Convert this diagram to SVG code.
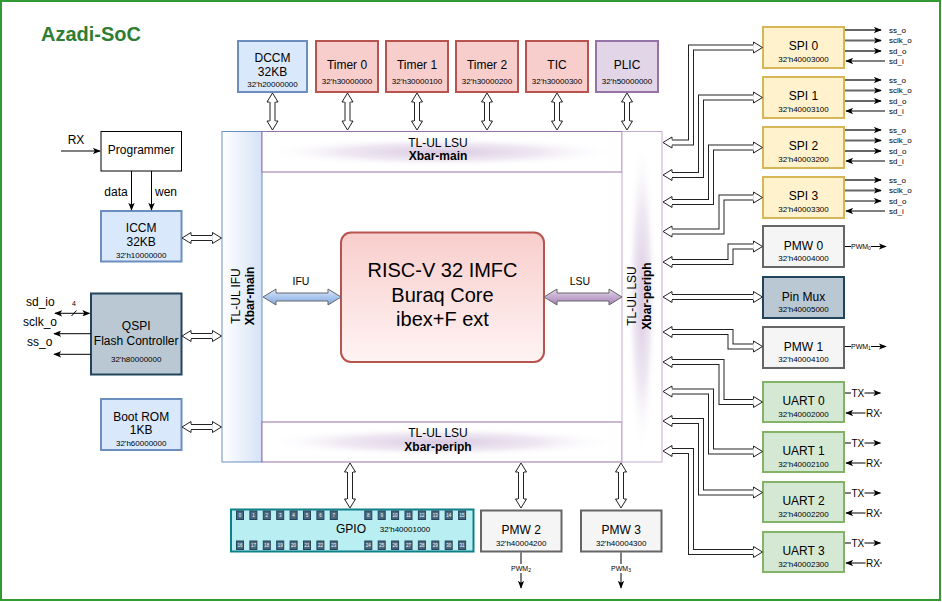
<svg xmlns="http://www.w3.org/2000/svg" width="942" height="602" viewBox="0 0 942 602">
<defs>
<style>
text{font-family:"Liberation Sans",Arial,sans-serif;fill:#000}
.c{text-anchor:middle}
.s12{font-size:12px}
.s8{font-size:8px}
.s10{font-size:10px}
.s7{font-size:7px}
.bx{stroke-width:2}
.blue{fill:#dae8fc;stroke:#6c8ebf}
.red{fill:#f8cecc;stroke:#b85450}
.pur{fill:#e1d5e7;stroke:#9673a6}
.yel{fill:#fff2cc;stroke:#d6b656}
.gry{fill:#f5f5f5;stroke:#666666}
.grn{fill:#d5e8d4;stroke:#82b366}
.dk{fill:#bac8d3;stroke:#23445d}
.fo{fill:none;stroke:#222;stroke-width:6;stroke-linejoin:miter;marker-start:url(#fh);marker-end:url(#fh)}
.fi{fill:none;stroke:#fff;stroke-width:4;stroke-linejoin:miter}
.sg{fill:none;stroke:#000;stroke-width:1;marker-end:url(#ah)}
.sgg{fill:none;stroke:#666;stroke-width:2;marker-end:url(#ah)}
.ln{fill:none;stroke:#000;stroke-width:1}
.pin rect{fill:#4a687d;stroke:#23445d;stroke-width:1}
.pin text{font-size:4.5px;fill:#fff;text-anchor:middle}
</style>
<marker id="fh" viewBox="-1 -7 11 14" refX="0" refY="0" markerWidth="11" markerHeight="14" markerUnits="userSpaceOnUse" orient="auto-start-reverse" overflow="visible">
<path d="M0,-3 L0,-5.5 L9,0 L0,5.5 L0,3" fill="#fff" stroke="#222" stroke-width="1" stroke-linejoin="miter"/>
</marker>
<marker id="ah" viewBox="0 0 10 8" refX="9" refY="4" markerWidth="8" markerHeight="6.4" markerUnits="userSpaceOnUse" orient="auto-start-reverse">
<path d="M0,0 L10,4 L0,8 L2.5,4 Z" fill="#000"/>
</marker>
<linearGradient id="gifu" x1="0" y1="0" x2="0" y2="1"><stop offset="0" stop-color="#dae8fc"/><stop offset="1" stop-color="#7ea6e0"/></linearGradient>
<linearGradient id="glsu" x1="0" y1="0" x2="0" y2="1"><stop offset="0" stop-color="#e1d5e7"/><stop offset="1" stop-color="#a680b8"/></linearGradient>
<linearGradient id="gleft" x1="0" y1="0" x2="1" y2="0"><stop offset="0" stop-color="#ffffff"/><stop offset="1" stop-color="#d4e2f7"/></linearGradient>
<linearGradient id="gcore" x1="0" y1="0" x2="0" y2="1"><stop offset="0" stop-color="#f8cecc"/><stop offset="1" stop-color="#fff3f3"/></linearGradient>
<radialGradient id="glow"><stop offset="0" stop-color="#d6c5df" stop-opacity="0.95"/><stop offset="0.55" stop-color="#e4d9ea" stop-opacity="0.6"/><stop offset="1" stop-color="#ffffff" stop-opacity="0"/></radialGradient>
</defs>

<rect x="1" y="1" width="939" height="599" fill="#fff" stroke="#339933" stroke-width="2"/>
<text x="41" y="40.5" style="font-size:20px;font-weight:bold;fill:#2e7d32">Azadi-SoC</text>

<!-- Bus structure -->
<g id="xbar">
<rect x="222" y="131.5" width="40" height="330.5" fill="url(#gleft)" stroke="#6c8ebf"/>
<rect x="262" y="131.5" width="360" height="40.5" fill="#fff" stroke="#9673a6"/>
<ellipse cx="442" cy="152" rx="180" ry="15" fill="url(#glow)"/>
<rect x="262" y="422" width="360" height="40" fill="#fff" stroke="#9673a6"/>
<ellipse cx="442" cy="442" rx="180" ry="15" fill="url(#glow)"/>
<rect x="622" y="131.5" width="40" height="330.5" fill="#fff" stroke="#c3abd0"/>
<ellipse cx="642" cy="297" rx="15" ry="160" fill="url(#glow)"/>
<text class="c s12" x="438" y="146.5">TL-UL LSU</text>
<text class="c s12" x="438" y="160" font-weight="bold">Xbar-main</text>
<text class="c s12" x="438" y="437">TL-UL LSU</text>
<text class="c s12" x="438" y="450.5" font-weight="bold">Xbar-periph</text>
<text class="c s12" transform="translate(239.5,296) rotate(-90)">TL-UL IFU</text>
<text class="c s12" transform="translate(254,296) rotate(-90)" font-weight="bold">Xbar-main</text>
<text class="c s12" transform="translate(636,296) rotate(-90)">TL-UL LSU</text>
<text class="c s12" transform="translate(650.5,296) rotate(-90)" font-weight="bold">Xbar-periph</text>
</g>

<g id="core">
<rect x="341" y="232.5" width="203" height="129.5" rx="10" fill="url(#gcore)" stroke="#b85450" stroke-width="2"/>
<text class="c" x="442.5" y="277" font-size="20">RISC-V 32 IMFC</text>
<text class="c" x="442.5" y="301.5" font-size="20">Buraq Core</text>
<text class="c" x="442.5" y="326" font-size="20">ibex+F ext</text>
</g>

<!-- top peripherals -->
<g id="dccm"><rect class="bx blue" x="238" y="41" width="69" height="51"/>
<text class="c s12" x="272.5" y="62">DCCM</text><text class="c s12" x="272.5" y="76">32KB</text><text class="c s8" x="272.5" y="87">32'h20000000</text></g>
<g id="timer0"><rect class="bx red" x="316" y="41" width="62" height="51"/>
<text class="c s12" x="347" y="69">Timer 0</text><text class="c s8" x="347" y="83.5">32'h30000000</text></g>
<g id="timer1"><rect class="bx red" x="386" y="41" width="62" height="51"/>
<text class="c s12" x="417" y="69">Timer 1</text><text class="c s8" x="417" y="83.5">32'h30000100</text></g>
<g id="timer2"><rect class="bx red" x="456" y="41" width="62" height="51"/>
<text class="c s12" x="487" y="69">Timer 2</text><text class="c s8" x="487" y="83.5">32'h30000200</text></g>
<g id="tic"><rect class="bx red" x="526" y="41" width="62" height="51"/>
<text class="c s12" x="557" y="69">TIC</text><text class="c s8" x="557" y="83.5">32'h30000300</text></g>
<g id="plic"><rect class="bx pur" x="596" y="41" width="62" height="51"/>
<text class="c s12" x="627" y="69">PLIC</text><text class="c s8" x="627" y="83.5">32'h50000000</text></g>

<!-- left side -->
<g id="programmer"><rect x="101" y="131.5" width="80.5" height="39.5" fill="#fff" stroke="#000"/>
<text class="c s12" x="141.2" y="153.5">Programmer</text></g>
<g id="iccm"><rect class="bx blue" x="101" y="211" width="80.5" height="50.5"/>
<text class="c s12" x="141.2" y="231.5">ICCM</text><text class="c s12" x="141.2" y="246">32KB</text><text class="c s8" x="141.2" y="257.5">32'h10000000</text></g>
<g id="qspi"><rect class="bx dk" x="91" y="293.5" width="90.5" height="81"/>
<text class="c s12" x="136.2" y="330">QSPI</text><text class="c s12" x="136.2" y="344.5">Flash Controller</text><text class="c s8" x="136.2" y="361.5">32'h80000000</text></g>
<g id="bootrom"><rect class="bx blue" x="101" y="399" width="80.5" height="51"/>
<text class="c s12" x="141.2" y="420.5">Boot ROM</text><text class="c s12" x="141.2" y="434">1KB</text><text class="c s8" x="141.2" y="445.5">32'h60000000</text></g>

<!-- right side -->
<g id="spi0"><rect class="bx yel" x="763" y="27" width="81" height="41"/>
<text class="c s12" x="803.5" y="49.5">SPI 0</text><text class="c s8" x="803.5" y="62">32'h40003000</text></g>
<g id="spi1"><rect class="bx yel" x="763" y="77" width="81" height="41"/>
<text class="c s12" x="803.5" y="99.5">SPI 1</text><text class="c s8" x="803.5" y="112">32'h40003100</text></g>
<g id="spi2"><rect class="bx yel" x="763" y="127" width="81" height="41"/>
<text class="c s12" x="803.5" y="149.5">SPI 2</text><text class="c s8" x="803.5" y="162">32'h40003200</text></g>
<g id="spi3"><rect class="bx yel" x="763" y="177" width="81" height="41"/>
<text class="c s12" x="803.5" y="199.5">SPI 3</text><text class="c s8" x="803.5" y="212">32'h40003300</text></g>
<g id="pmw0"><rect class="bx gry" x="763" y="226" width="81" height="41"/>
<text class="c s12" x="803.5" y="250">PMW 0</text><text class="c s8" x="803.5" y="261">32'h40004000</text></g>
<g id="pinmux"><rect class="bx dk" x="763" y="277" width="81" height="41"/>
<text class="c s12" x="803.5" y="300.5">Pin Mux</text><text class="c s8" x="803.5" y="312">32'h40005000</text></g>
<g id="pmw1"><rect class="bx gry" x="763" y="327" width="81" height="41"/>
<text class="c s12" x="803.5" y="350.5">PMW 1</text><text class="c s8" x="803.5" y="362">32'h40004100</text></g>
<g id="uart0"><rect class="bx grn" x="763" y="382" width="81" height="40"/>
<text class="c s12" x="803.5" y="405">UART 0</text><text class="c s8" x="803.5" y="416.5">32'h40002000</text></g>
<g id="uart1"><rect class="bx grn" x="763" y="432" width="81" height="40"/>
<text class="c s12" x="803.5" y="455">UART 1</text><text class="c s8" x="803.5" y="466.5">32'h40002100</text></g>
<g id="uart2"><rect class="bx grn" x="763" y="482" width="81" height="40"/>
<text class="c s12" x="803.5" y="505">UART 2</text><text class="c s8" x="803.5" y="516.5">32'h40002200</text></g>
<g id="uart3"><rect class="bx grn" x="763" y="532" width="81" height="40"/>
<text class="c s12" x="803.5" y="555">UART 3</text><text class="c s8" x="803.5" y="566.5">32'h40002300</text></g>

<!-- bottom -->
<g id="gpio"><rect x="231" y="509.5" width="242.5" height="42" fill="#b9eef2" stroke="#0e8088" stroke-width="2"/>
<text class="c s12" x="351" y="532.5">GPIO</text><text class="c s8" x="405" y="532">32'h40001000</text>
<g class="pin">
<rect x="236.5" y="511" width="7" height="8.5"/><text x="240" y="517">0</text>
<rect x="249.9" y="511" width="7" height="8.5"/><text x="253.4" y="517">1</text>
<rect x="263.3" y="511" width="7" height="8.5"/><text x="266.8" y="517">2</text>
<rect x="276.7" y="511" width="7" height="8.5"/><text x="280.2" y="517">3</text>
<rect x="290.1" y="511" width="7" height="8.5"/><text x="293.6" y="517">4</text>
<rect x="303.5" y="511" width="7" height="8.5"/><text x="307" y="517">5</text>
<rect x="316.9" y="511" width="7" height="8.5"/><text x="320.4" y="517">6</text>
<rect x="330.3" y="511" width="7" height="8.5"/><text x="333.8" y="517">7</text>
<rect x="364.8" y="511" width="7" height="8.5"/><text x="368.3" y="517">8</text>
<rect x="378.2" y="511" width="7" height="8.5"/><text x="381.7" y="517">9</text>
<rect x="391.6" y="511" width="7" height="8.5"/><text x="395.1" y="517">10</text>
<rect x="405" y="511" width="7" height="8.5"/><text x="408.5" y="517">11</text>
<rect x="418.4" y="511" width="7" height="8.5"/><text x="421.9" y="517">12</text>
<rect x="431.8" y="511" width="7" height="8.5"/><text x="435.3" y="517">13</text>
<rect x="445.2" y="511" width="7" height="8.5"/><text x="448.7" y="517">14</text>
<rect x="458.6" y="511" width="7" height="8.5"/><text x="462.1" y="517">15</text>
<rect x="236.5" y="541" width="7" height="8.5"/><text x="240" y="547">16</text>
<rect x="249.9" y="541" width="7" height="8.5"/><text x="253.4" y="547">17</text>
<rect x="263.3" y="541" width="7" height="8.5"/><text x="266.8" y="547">18</text>
<rect x="276.7" y="541" width="7" height="8.5"/><text x="280.2" y="547">19</text>
<rect x="290.1" y="541" width="7" height="8.5"/><text x="293.6" y="547">20</text>
<rect x="303.5" y="541" width="7" height="8.5"/><text x="307" y="547">21</text>
<rect x="316.9" y="541" width="7" height="8.5"/><text x="320.4" y="547">22</text>
<rect x="330.3" y="541" width="7" height="8.5"/><text x="333.8" y="547">23</text>
<rect x="364.8" y="541" width="7" height="8.5"/><text x="368.3" y="547">24</text>
<rect x="378.2" y="541" width="7" height="8.5"/><text x="381.7" y="547">25</text>
<rect x="391.6" y="541" width="7" height="8.5"/><text x="395.1" y="547">26</text>
<rect x="405" y="541" width="7" height="8.5"/><text x="408.5" y="547">27</text>
<rect x="418.4" y="541" width="7" height="8.5"/><text x="421.9" y="547">28</text>
<rect x="431.8" y="541" width="7" height="8.5"/><text x="435.3" y="547">29</text>
<rect x="445.2" y="541" width="7" height="8.5"/><text x="448.7" y="547">30</text>
<rect x="458.6" y="541" width="7" height="8.5"/><text x="462.1" y="547">31</text>
</g></g>
<g id="pmw2"><rect class="bx gry" x="481" y="510.5" width="80.5" height="41"/>
<text class="c s12" x="521.2" y="534">PMW 2</text><text class="c s8" x="521.2" y="545.5">32'h40004200</text></g>
<g id="pmw3"><rect class="bx gry" x="581" y="510.5" width="80.5" height="41"/>
<text class="c s12" x="621.2" y="534">PMW 3</text><text class="c s8" x="621.2" y="545.5">32'h40004300</text></g>

<!-- connectors -->
<g id="connectors">
<!-- bus flex arrows -->
<path class="fo" d="M272.5,102 V121"/><path class="fi" d="M272.5,102 V121"/>
<path class="fo" d="M347.5,102 V121"/><path class="fi" d="M347.5,102 V121"/>
<path class="fo" d="M417,102 V121"/><path class="fi" d="M417,102 V121"/>
<path class="fo" d="M487,102 V121"/><path class="fi" d="M487,102 V121"/>
<path class="fo" d="M557,102 V121"/><path class="fi" d="M557,102 V121"/>
<path class="fo" d="M627,102 V121"/><path class="fi" d="M627,102 V121"/>
<path class="fo" d="M350,472 V499"/><path class="fi" d="M350,472 V499"/>
<path class="fo" d="M521,472 V499"/><path class="fi" d="M521,472 V499"/>
<path class="fo" d="M621,472 V499"/><path class="fi" d="M621,472 V499"/>
<path class="fo" d="M191,238 H212.5"/><path class="fi" d="M191,238 H212.5"/>
<path class="fo" d="M191,336 H212.5"/><path class="fi" d="M191,336 H212.5"/>
<path class="fo" d="M191,427 H212.5"/><path class="fi" d="M191,427 H212.5"/>
<path class="fo" d="M672,142.5 H691 V47.5 H753.5"/><path class="fi" d="M672,142.5 H691 V47.5 H753.5"/>
<path class="fo" d="M672,175 H701 V97.5 H753.5"/><path class="fi" d="M672,175 H701 V97.5 H753.5"/>
<path class="fo" d="M672,202 H711 V147.5 H753.5"/><path class="fi" d="M672,202 H711 V147.5 H753.5"/>
<path class="fo" d="M672,231.5 H721.5 V197.5 H753.5"/><path class="fi" d="M672,231.5 H721.5 V197.5 H753.5"/>
<path class="fo" d="M672,262 H730.5 V246.5 H753.5"/><path class="fi" d="M672,262 H730.5 V246.5 H753.5"/>
<path class="fo" d="M672,297 H753.5"/><path class="fi" d="M672,297 H753.5"/>
<path class="fo" d="M672,332 H730.5 V346.5 H753.5"/><path class="fi" d="M672,332 H730.5 V346.5 H753.5"/>
<path class="fo" d="M672,362 H721.5 V402 H753.5"/><path class="fi" d="M672,362 H721.5 V402 H753.5"/>
<path class="fo" d="M672,391.5 H711 V451.5 H753.5"/><path class="fi" d="M672,391.5 H711 V451.5 H753.5"/>
<path class="fo" d="M672,421 H701 V492.5 H753.5"/><path class="fi" d="M672,421 H701 V492.5 H753.5"/>
<path class="fo" d="M672,451 H691 V552 H753.5"/><path class="fi" d="M672,451 H691 V552 H753.5"/>

<!-- core arrows -->
<polygon points="263,297 276,289 276,293 328,293 328,289 341,297 328,305 328,301 276,301 276,305" fill="url(#gifu)" stroke="#666" stroke-width="1"/>
<polygon points="544,297 557,289 557,293 609,293 609,289 622,297 609,305 609,301 557,301 557,305" fill="url(#glsu)" stroke="#666" stroke-width="1"/>
<text class="c" x="301" y="285" font-size="10.5">IFU</text>
<text class="c" x="580" y="285" font-size="10.5">LSU</text>

<!-- programmer signals -->
<path class="sg" d="M61,151 H100"/>
<text class="c s12" x="76" y="144">RX</text>
<path class="sg" d="M131.5,171 V210"/>
<path class="sg" d="M151.5,171 V210"/>
<text class="c s12" x="116" y="195.5">data</text>
<text class="c s12" x="166" y="195.5">wen</text>

<!-- QSPI signals -->
<text class="s12" x="26" y="306">sd_io</text>
<path class="sg" d="M55,313.3 H89.5" style="marker-start:url(#ah)"/>
<path class="ln" d="M71.5,316 L76.5,310.5"/>
<text class="c s7" x="74" y="306">4</text>
<text class="s12" x="23" y="326">sclk_o</text>
<path class="sg" d="M91,333.7 H54"/>
<text class="s12" x="27" y="346">ss_o</text>
<path class="sg" d="M91,354.3 H54"/>

<!-- SPI signals -->
<path class="sgg" d="M845,30 H881"/><path class="sgg" d="M845,40.5 H881"/><path class="sgg" d="M845,51 H881"/><path class="sg" d="M885,61 H846"/>
<text class="s8" x="889" y="32.5">ss_o</text><text class="s8" x="889" y="43">sclk_o</text><text class="s8" x="889" y="53.5">sd_o</text><text class="s8" x="889" y="63.5">sd_i</text>
<path class="sgg" d="M845,80 H881"/><path class="sgg" d="M845,90.5 H881"/><path class="sgg" d="M845,101 H881"/><path class="sg" d="M885,111 H846"/>
<text class="s8" x="889" y="82.5">ss_o</text><text class="s8" x="889" y="93">sclk_o</text><text class="s8" x="889" y="103.5">sd_o</text><text class="s8" x="889" y="113.5">sd_i</text>
<path class="sgg" d="M845,130 H881"/><path class="sgg" d="M845,140.5 H881"/><path class="sgg" d="M845,151 H881"/><path class="sg" d="M885,161 H846"/>
<text class="s8" x="889" y="132.5">ss_o</text><text class="s8" x="889" y="143">sclk_o</text><text class="s8" x="889" y="153.5">sd_o</text><text class="s8" x="889" y="163.5">sd_i</text>
<path class="sgg" d="M845,180 H881"/><path class="sgg" d="M845,190.5 H881"/><path class="sg" d="M845,201 H881"/><path class="sg" d="M885,211 H846"/>
<text class="s8" x="889" y="182.5">ss_o</text><text class="s8" x="889" y="193">sclk_o</text><text class="s8" x="889" y="203.5">sd_o</text><text class="s8" x="889" y="213.5">sd_i</text>

<!-- PWM outputs -->
<path class="ln" d="M845,246.5 H851"/><path class="sg" d="M871,246.5 H886"/>
<text class="s7" x="851" y="249">PWM<tspan font-size="5" dy="1">0</tspan></text>
<path class="ln" d="M845,346.5 H851"/><path class="sg" d="M871,346.5 H886"/>
<text class="s7" x="851" y="349">PWM<tspan font-size="5" dy="1">1</tspan></text>
<path class="sg" d="M521,552.5 V588"/>
<rect x="510" y="564" width="22" height="9" fill="#fff"/>
<text class="c s7" x="521" y="571">PWM<tspan font-size="5" dy="1">2</tspan></text>
<path class="sg" d="M621,552.5 V588"/>
<rect x="610" y="564" width="22" height="9" fill="#fff"/>
<text class="c s7" x="621" y="571">PWM<tspan font-size="5" dy="1">3</tspan></text>

<!-- UART signals -->
<path class="ln" d="M845,393 H851"/><path class="sg" d="M864.5,393 H880.5"/><text class="s10" x="851.5" y="396.6">TX</text>
<path class="sg" d="M865.5,413 H846"/><text class="s10" x="866" y="416.6">RX</text><path class="ln" d="M879.8,413 H882"/>
<path class="ln" d="M845,443 H851"/><path class="sg" d="M864.5,443 H880.5"/><text class="s10" x="851.5" y="446.6">TX</text>
<path class="sg" d="M865.5,463 H846"/><text class="s10" x="866" y="466.6">RX</text><path class="ln" d="M879.8,463 H882"/>
<path class="ln" d="M845,493 H851"/><path class="sg" d="M864.5,493 H880.5"/><text class="s10" x="851.5" y="496.6">TX</text>
<path class="sg" d="M865.5,513 H846"/><text class="s10" x="866" y="516.6">RX</text><path class="ln" d="M879.8,513 H882"/>
<path class="ln" d="M845,543 H851"/><path class="sg" d="M864.5,543 H880.5"/><text class="s10" x="851.5" y="546.6">TX</text>
<path class="sg" d="M865.5,563 H846"/><text class="s10" x="866" y="566.6">RX</text><path class="ln" d="M879.8,563 H882"/>
</g>
</svg>
